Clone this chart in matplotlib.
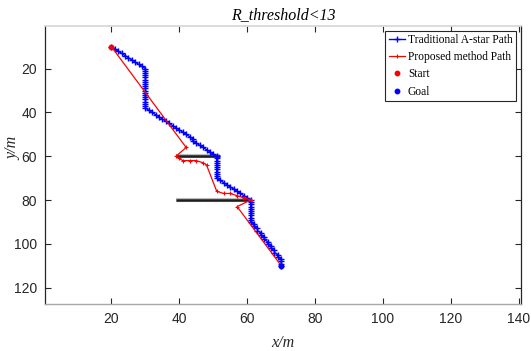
import matplotlib
matplotlib.use("Agg")
import matplotlib.pyplot as plt

# ---------------- data ----------------
title_text = "R_threshold<13"
xlabel_text = "x/m"
ylabel_text = "y/m"
x_ticks = [20, 40, 60, 80, 100, 120, 140]
y_ticks = [20, 40, 60, 80, 100, 120]

# Traditional A-star path (grid cells)
astar_x = [20, 21, 22, 23, 24, 25, 26, 27, 28, 29,
           30, 30, 30, 30, 30, 30, 30, 30, 30, 30, 30, 30, 30, 30, 30, 30, 30, 30, 30,
           31, 32, 33, 34, 35, 36, 37, 38, 39, 40, 41, 42, 43, 44,
           44,
           45, 46, 47, 48, 49, 50, 51,
           51, 51, 51, 51, 51, 51, 51, 51, 51, 51,
           52, 53, 54, 55, 56, 57, 58, 59, 60, 61,
           61, 61, 61, 61, 61, 61, 61, 61, 61, 61,
           62, 62, 63, 63, 64, 64, 65, 65, 66, 66, 67, 67, 68, 68, 69, 69, 70, 70, 70, 70]
astar_y = [10, 11, 12, 13, 14, 15, 16, 17, 18, 19,
           20, 21, 22, 23, 24, 25, 26, 27, 28, 29, 30, 31, 32, 33, 34, 35, 36, 37, 38,
           39, 40, 41, 42, 43, 44, 45, 46, 47, 48, 49, 50, 51, 52,
           53,
           54, 55, 56, 57, 58, 59, 60,
           61, 62, 63, 64, 65, 66, 67, 68, 69, 70,
           71, 72, 73, 74, 75, 76, 77, 78, 79, 80,
           81, 82, 83, 84, 85, 86, 87, 88, 89, 90,
           91, 92, 93, 94, 95, 96, 97, 98, 99, 100, 101, 102, 103, 104, 105, 106, 107, 108, 109, 110]

# Proposed method path
prop_x = [20, 42, 39, 40, 41, 43, 45, 47, 48, 51, 53, 55, 57, 59, 61, 57, 70]
prop_y = [10, 56, 60, 61, 62, 62, 62, 63, 64, 76, 77, 77, 78, 79, 80, 83, 110]

start_pt = (20, 10)
goal_pt = (70, 110)

# obstacles (horizontal walls)
wall_y = [60, 80]
wall_x0 = [39, 39]
wall_x1 = [52, 61]

# ---------------- figure ----------------
fig = plt.figure(figsize=(5.31, 3.51), dpi=100)
ax = fig.add_axes([45.3 / 531, 1 - 304 / 351, (520.5 - 45.3) / 531, (304 - 26) / 351])

for y, a, b in zip(wall_y, wall_x0, wall_x1):
    ax.plot([a, b], [y, y], color="#bdbdbd", lw=3.0, solid_capstyle="butt", zorder=2)
    ax.plot([a, b], [y, y], color="#1e1e1e", lw=1.8, solid_capstyle="butt", zorder=2)

ax.plot(astar_x, astar_y, color="#0000ff", lw=1.0, marker="+", ms=4, mew=1.0,
        label="Traditional A-star Path", zorder=3)
ax.plot(prop_x, prop_y, color="#ff0000", lw=0.9, marker="+", ms=3.5, mew=0.8,
        label="Proposed method Path", zorder=4)
ax.plot([start_pt[0]], [start_pt[1]], "o", color="#ff0000", ms=3.2, ls="none",
        label="Start", zorder=5)
ax.plot([goal_pt[0]], [goal_pt[1]], "o", color="#0000ff", ms=3.2, ls="none",
        label="Goal", zorder=5)

ax.set_xlim(0.5, 140.5)
ax.set_ylim(127.5, 0.5)
ax.set_xticks(x_ticks)
ax.set_yticks(y_ticks)

tick_font = {"family": "Liberation Sans", "size": 10}
ax.set_xticklabels([str(t) for t in x_ticks], fontdict=tick_font, color="#262626")
ax.set_yticklabels([str(t) for t in y_ticks], fontdict=tick_font, color="#262626")
ax.tick_params(direction="in", length=4, width=0.8, color="#262626",
               top=True, right=True, pad=6)

for s in ["left", "right"]:
    ax.spines[s].set_color("#262626")
    ax.spines[s].set_linewidth(0.9)
ax.spines["top"].set_color("#d6d6d6")
ax.spines["top"].set_linewidth(1.2)
ax.spines["bottom"].set_color("#a8a8a8")
ax.spines["bottom"].set_linewidth(1.0)

serif_it = {"family": "Liberation Serif", "style": "italic", "size": 11.5}
ax.set_title(title_text, fontdict=serif_it, color="#000000", pad=5)
ax.set_xlabel(xlabel_text, fontdict=serif_it, color="#262626", labelpad=6)
ax.set_ylabel(ylabel_text, fontdict=serif_it, color="#262626")
ax.yaxis.set_label_coords(-0.05, 0.56)

leg = ax.legend(loc="upper right", prop={"family": "Liberation Serif", "size": 8.3},
                frameon=True, fancybox=False, edgecolor="#262626", framealpha=1,
                borderaxespad=0.4, handlelength=1.4, handletextpad=0.25,
                labelspacing=0.45, borderpad=0.3, markerscale=1.0)
leg.get_frame().set_linewidth(0.8)

fig.savefig("out.png", dpi=100)
